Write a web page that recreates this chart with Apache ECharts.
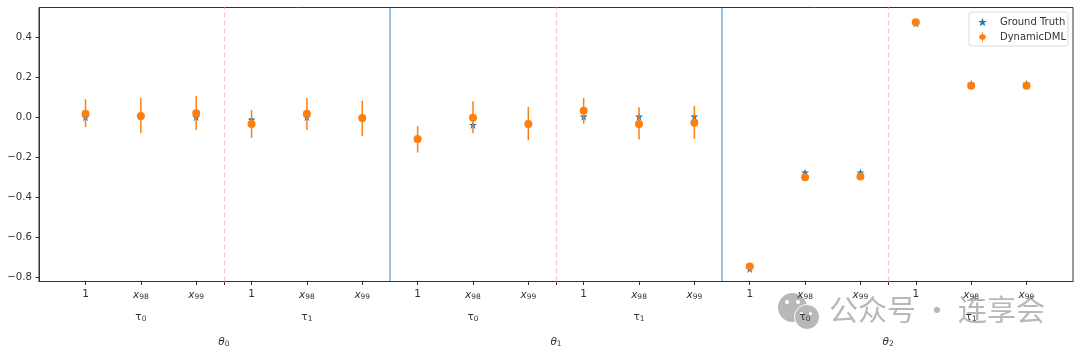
<!DOCTYPE html>
<html>
<head>
<meta charset="utf-8">
<script src="https://cdn.jsdelivr.net/npm/echarts@6/dist/echarts.min.js"></script>
<style>
  html, body { margin: 0; padding: 0; background: #fff; }
  #chart { width: 1080px; height: 355px; }
</style>
</head>
<body>
<div id="chart"></div>
<script>
// 每个点的横坐标下标 0..17，依次为 theta0/theta1/theta2 下的 tau0/tau1 和 1/x98/x99
const positions = [0, 1, 2, 3, 4, 5, 6, 7, 8, 9, 10, 11, 12, 13, 14, 15, 16, 17]
const tickNames = ['1', 'x98', 'x99', '1', 'x98', 'x99', '1', 'x98', 'x99', '1', 'x98', 'x99', '1', 'x98', 'x99', '1', 'x98', 'x99']
const groundTruth = [0.0, 0.005, 0.0, -0.012, 0.0, -0.004, -0.109, -0.039, -0.034, 0.003, 0.003, 0.003, -0.76, -0.277, -0.277, 0.47, 0.168, 0.168]
const estimate = [0.017, 0.006, 0.02, -0.034, 0.017, -0.004, -0.109, -0.002, -0.034, 0.032, -0.034, -0.027, -0.748, -0.3, -0.297, 0.476, 0.158, 0.158]
const lower = [-0.05, -0.079, -0.064, -0.104, -0.064, -0.094, -0.177, -0.08, -0.115, -0.032, -0.112, -0.107, -0.76, -0.312, -0.309, 0.464, 0.146, 0.146]
const upper = [0.09, 0.097, 0.107, 0.037, 0.097, 0.083, -0.044, 0.08, 0.052, 0.097, 0.05, 0.057, -0.736, -0.288, -0.285, 0.488, 0.17, 0.17]

const yTicks = [-0.8, -0.6, -0.4, -0.2, 0, 0.2, 0.4]
const tauPositions = [1, 4, 7, 10, 13, 16]
const tauNames = ['0', '1', '0', '1', '0', '1']
const thetaPositions = [2.5, 8.5, 14.5]
const thetaNames = ['0', '1', '2']
const pinkLines = [2.5, 8.5, 14.5]
const blueLines = [5.5, 11.5]

const textColor = '#333'
const fontFamily = '"DejaVu Sans"'
const starPath = 'path://M50 0L62 35H100L69 57L81 95L50 72L19 95L31 57L0 35H38Z'
const watermarkColor = '#b8b8b8'

const chart = echarts.init(document.getElementById('chart'))

// 多层 x 轴共用的样式，只显示文字
const labelAxis = (values, offset, formatter, rich) => ({
  type: 'value',
  position: 'bottom',
  min: -0.84,
  max: 17.84,
  offset: offset,
  axisLine: { show: false },
  axisTick: { show: false },
  splitLine: { show: false },
  axisLabel: {
    customValues: values,
    color: textColor,
    fontFamily: fontFamily,
    fontSize: 10.2,
    margin: 0,
    verticalAlign: 'top',
    showMinLabel: true,
    showMaxLabel: true,
    formatter: formatter,
    rich: rich
  }
})

const subRich = {
  i: { fontFamily: fontFamily, fontStyle: 'italic', fontSize: 10.5, color: textColor },
  n: { fontFamily: fontFamily, fontSize: 10.5, color: textColor },
  s: { fontFamily: fontFamily, fontSize: 7.5, color: textColor, verticalAlign: 'bottom', padding: [5, 0, 0, 0] }
}

const option = {
  animation: false,
  backgroundColor: '#fff',
  textStyle: { fontFamily: fontFamily },
  grid: { show: true, borderColor: '#333', borderWidth: 1, left: 39, right: 7, top: 7.5, bottom: 73.5, containLabel: false },
  legend: {
    data: [
      { name: 'Ground Truth', icon: starPath, itemStyle: { color: '#1f77b4' } },
      { name: 'DynamicDML', icon: 'path://M46 0H54V22A28 28 0 0 1 54 78V100H46V78A28 28 0 0 1 46 22Z', itemStyle: { color: '#ff7f0e' } }
    ],
    orient: 'vertical',
    right: 12,
    top: 12,
    itemWidth: 9,
    itemHeight: 10,
    itemGap: 5,
    padding: [5, 2, 4, 9],
    backgroundColor: 'rgba(255,255,255,0.8)',
    borderColor: '#ddd',
    borderWidth: 1,
    borderRadius: 3,
    textStyle: { color: textColor, fontSize: 10, fontFamily: fontFamily, padding: [0, 0, 0, 8] }
  },
  xAxis: [
    {
      type: 'value',
      min: -0.84,
      max: 17.84,
      splitLine: { show: false },
      axisLine: { onZero: false, lineStyle: { color: '#333', width: 1 } },
      axisTick: {
        customValues: positions.concat([2.5, 8.5, 14.5]),
        length: 3.5,
        lineStyle: { color: '#333' }
      },
      axisLabel: {
        customValues: positions,
        margin: 7,
        color: textColor,
        fontSize: 10.2,
        fontFamily: fontFamily,
        showMinLabel: true,
        showMaxLabel: true,
        formatter: (value) => {
          const name = tickNames[value]
          return name === '1' ? '{n|1}' : `{i|x}{s|${name.slice(1)}}`
        },
        rich: subRich
      }
    },
    labelAxis(tauPositions, 29, (value) => `{n|τ}{s|${tauNames[tauPositions.indexOf(value)]}}`, subRich),
    labelAxis(thetaPositions, 54, (value) => `{i|θ}{s|${thetaNames[thetaPositions.indexOf(value)]}}`, subRich)
  ],
  yAxis: {
    type: 'value',
    min: -0.823,
    max: 0.55,
    splitLine: { show: false },
    axisLine: { show: true, onZero: false, lineStyle: { color: '#333', width: 1 } },
    axisTick: { show: true, customValues: yTicks, length: 3.5, lineStyle: { color: '#333' } },
    axisLabel: {
      customValues: yTicks,
      margin: 7,
      padding: [4, 0, 0, 0],
      color: textColor,
      fontSize: 10.2,
      fontFamily: fontFamily,
      formatter: (value) => value.toFixed(1).replace('-', '\u2212')
    }
  },
  series: [
    {
      name: 'Ground Truth',
      type: 'scatter',
      symbol: starPath,
      symbolSize: 8,
      itemStyle: { color: '#1f77b4', opacity: 1 },
      z: 3,
      data: positions.map((x, i) => [x, groundTruth[i]]),
      markLine: {
        silent: true,
        symbol: 'none',
        label: { show: false },
        animation: false,
        data: pinkLines.map((x) => ({ xAxis: x, lineStyle: { color: '#ffc0cb', type: [5, 3], width: 1.3, opacity: 1 } }))
          .concat(blueLines.map((x) => ({ xAxis: x, lineStyle: { color: '#1f77b4', type: 'solid', width: 1.5, opacity: 0.6 } })))
      }
    },
    {
      name: 'errorBars',
      type: 'custom',
      z: 4,
      data: positions.map((x, i) => [x, lower[i], upper[i]]),
      encode: { x: 0, y: [1, 2] },
      renderItem: (params, api) => {
        const low = api.coord([api.value(0), api.value(1)])
        const high = api.coord([api.value(0), api.value(2)])
        return {
          type: 'line',
          shape: { x1: low[0], y1: low[1], x2: high[0], y2: high[1] },
          style: { stroke: '#ff7f0e', lineWidth: 1.5 }
        }
      }
    },
    {
      name: 'DynamicDML',
      type: 'scatter',
      symbol: 'circle',
      symbolSize: 8,
      itemStyle: { color: '#ff7f0e', opacity: 1 },
      z: 5,
      data: positions.map((x, i) => [x, estimate[i]])
    }
  ],
  // 右下角公众号水印，放在轴文字下面
  graphic: {
    z: -1,
    elements: [
      { type: 'circle', left: 778, top: 293, shape: { r: 14.5 }, style: { fill: watermarkColor } },
      { type: 'circle', left: 785, top: 300, shape: { r: 2 }, style: { fill: '#fff' } },
      { type: 'circle', left: 796, top: 300, shape: { r: 2 }, style: { fill: '#fff' } },
      { type: 'circle', left: 794, top: 304, shape: { r: 12.5 }, style: { fill: watermarkColor, stroke: '#fff', lineWidth: 1 } },
      { type: 'circle', left: 800, top: 312, shape: { r: 1.5 }, style: { fill: '#fff' } },
      { type: 'circle', left: 809, top: 312, shape: { r: 1.5 }, style: { fill: '#fff' } },
      {
        type: 'text',
        left: 829,
        top: 295,
        style: {
          text: '公众号 · 连享会',
          fill: watermarkColor,
          fontSize: 29,
          fontFamily: '"Noto Sans CJK SC"'
        }
      }
    ]
  }
}

chart.setOption(option)
</script>
</body>
</html>
